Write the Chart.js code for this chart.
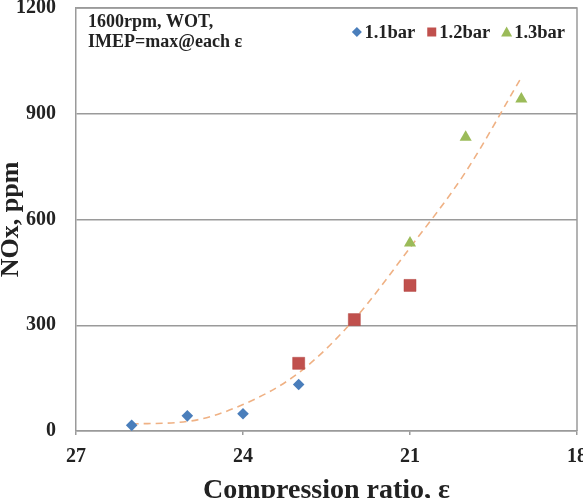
<!DOCTYPE html>
<html>
<head>
<meta charset="utf-8">
<script src="https://cdn.jsdelivr.net/npm/chart.js@4/dist/chart.umd.min.js"></script>
<style>
  html, body { margin: 0; padding: 0; background: #ffffff; }
  canvas { display: block; }
</style>
</head>
<body>
<canvas id="c" width="583" height="498"></canvas>
<script>
// ---- data ----
const cr11 = [26, 25, 24, 23];
const nox11 = [16, 43, 49, 132];
const cr12 = [23, 22, 21];
const nox12 = [192, 316, 413];
const cr13 = [21, 20, 19];
const nox13 = [533, 833, 942];
// dashed trend curve
const trendCR = [26, 25, 24, 23, 22, 21, 20, 19];
const trendNOx = [20, 27, 75, 165, 317, 520, 735, 1003];

const seriesLabels = ['1.1bar', '1.2bar', '1.3bar'];
const xTicks = [27, 24, 21, 18];
const yTicks = [0, 300, 600, 900, 1200];
const noteLines = ['1600rpm, WOT,', 'IMEP=max@each \u03b5'];
const xTitle = 'Compression ratio, \u03b5';
const yTitle = 'NOx, ppm';

const SERIF = "'Liberation Serif', 'Times New Roman', serif";
const BLUE = '#4a7ebb', RED = '#c0504d', GREEN = '#9bbb59', TREND = '#efb184';
const GRID = '#9a9a9a';

const pts = (xs, ys) => xs.map((x, i) => ({x: x, y: ys[i]}));

const frameAndNotes = {
  id: 'frameAndNotes',
  afterDatasetsDraw(chart) {
    const {ctx, chartArea: a} = chart;
    ctx.save();
    // plot frame (top & right edges)
    ctx.strokeStyle = GRID;
    ctx.lineWidth = 1.5;
    ctx.beginPath();
    ctx.moveTo(a.left, a.top); ctx.lineTo(a.right, a.top); ctx.lineTo(a.right, a.bottom);
    ctx.stroke();
    // x tick labels, placed through the x scale
    const xs = chart.scales.x;
    ctx.fillStyle = '#222';
    ctx.font = 'bold 20px ' + SERIF;
    ctx.textAlign = 'center';
    ctx.textBaseline = 'middle';
    xTicks.forEach(v => ctx.fillText(String(v), xs.getPixelForValue(v), a.bottom + 26));
    // annotation text
    ctx.font = 'bold 18px ' + SERIF;
    ctx.textAlign = 'left';
    noteLines.forEach((t, i) => ctx.fillText(t, a.left + 12, a.top + 14 + i * 20));
    // legend (markers + labels), right aligned
    const items = chart.data.datasets.filter(d => seriesLabels.includes(d.label));
    ctx.font = 'bold 18.5px ' + SERIF;
    const gapM = 3, gapItem = 12, mk = 9;
    const widths = items.map(d => mk + gapM + ctx.measureText(d.label).width);
    let total = widths.reduce((s, w) => s + w, 0) + gapItem * (items.length - 1);
    let x = a.right - 12 - total;
    const y = a.top + 24;
    items.forEach((d, i) => {
      const cx = x + mk / 2;
      ctx.fillStyle = d.backgroundColor;
      ctx.beginPath();
      if (d.pointStyle === 'rectRot') {
        ctx.moveTo(cx, y - 5); ctx.lineTo(cx + 5, y); ctx.lineTo(cx, y + 5); ctx.lineTo(cx - 5, y);
      } else if (d.pointStyle === 'rect') {
        ctx.rect(cx - 4.5, y - 4.5, 9, 9);
      } else {
        ctx.moveTo(cx, y - 5.5); ctx.lineTo(cx + 5.5, y + 4.5); ctx.lineTo(cx - 5.5, y + 4.5);
      }
      ctx.closePath();
      ctx.fill();
      ctx.fillStyle = '#222';
      ctx.fillText(d.label, x + mk + gapM, y + 1);
      x += widths[i] + gapItem;
    });
    ctx.restore();
  }
};

new Chart(document.getElementById('c'), {
  type: 'scatter',
  data: {
    datasets: [
      {
        label: 'trend', data: pts(trendCR, trendNOx), showLine: true,
        borderColor: TREND, borderWidth: 1.6, borderDash: [7, 5],
        pointRadius: 0, cubicInterpolationMode: 'monotone', fill: false, order: 5
      },
      {
        label: seriesLabels[0], data: pts(cr11, nox11), pointStyle: 'rectRot',
        backgroundColor: BLUE, borderColor: BLUE, pointRadius: 5.8, borderWidth: 0, order: 1
      },
      {
        label: seriesLabels[1], data: pts(cr12, nox12), pointStyle: 'rect',
        backgroundColor: RED, borderColor: '#b0403d', pointRadius: 8.5, borderWidth: 0.5, order: 1
      },
      {
        label: seriesLabels[2], data: pts(cr13, nox13), pointStyle: 'triangle',
        backgroundColor: GREEN, borderColor: GREEN, pointRadius: 7, borderWidth: 0, order: 1
      }
    ]
  },
  options: {
    responsive: false,
    animation: false,
    devicePixelRatio: 1,
    layout: { autoPadding: false, padding: { top: 8, right: 6, left: 0, bottom: 0 } },
    plugins: { legend: { display: false }, tooltip: { enabled: false } },
    scales: {
      x: {
        type: 'linear', reverse: true, min: 18, max: 27,
        afterBuildTicks: (s) => { s.ticks = xTicks.map(v => ({value: v})); },
        afterFit: (s) => { s.paddingLeft = 0; s.paddingRight = 0; s.height = 67; },
        grid: { drawOnChartArea: false, drawTicks: true, tickLength: 4, color: GRID, lineWidth: 1.5 },
        border: { color: GRID, width: 1.5 },
        ticks: { display: false },
        title: { display: true, text: xTitle, color: '#222', font: { family: SERIF, size: 28, weight: 'bold', lineHeight: 0.5 }, padding: { top: 0, bottom: 0 } }
      },
      y: {
        min: 0, max: 1200,
        afterBuildTicks: (s) => { s.ticks = yTicks.map(v => ({value: v})); },
        afterFit: (s) => { s.paddingTop = 0; s.paddingBottom = 0; s.width = 76; },
        grid: { drawTicks: false, color: GRID, lineWidth: 1.5 },
        border: { color: GRID, width: 1.5 },
        ticks: { color: '#222', font: { family: SERIF, size: 20, weight: 'bold' }, padding: 20,
                 callback: (v) => String(v) },
        title: { display: true, text: yTitle, color: '#222', font: { family: SERIF, size: 26, weight: 'bold', lineHeight: 0.85 }, padding: 0 }
      }
    }
  },
  plugins: [frameAndNotes]
});
</script>
</body>
</html>
